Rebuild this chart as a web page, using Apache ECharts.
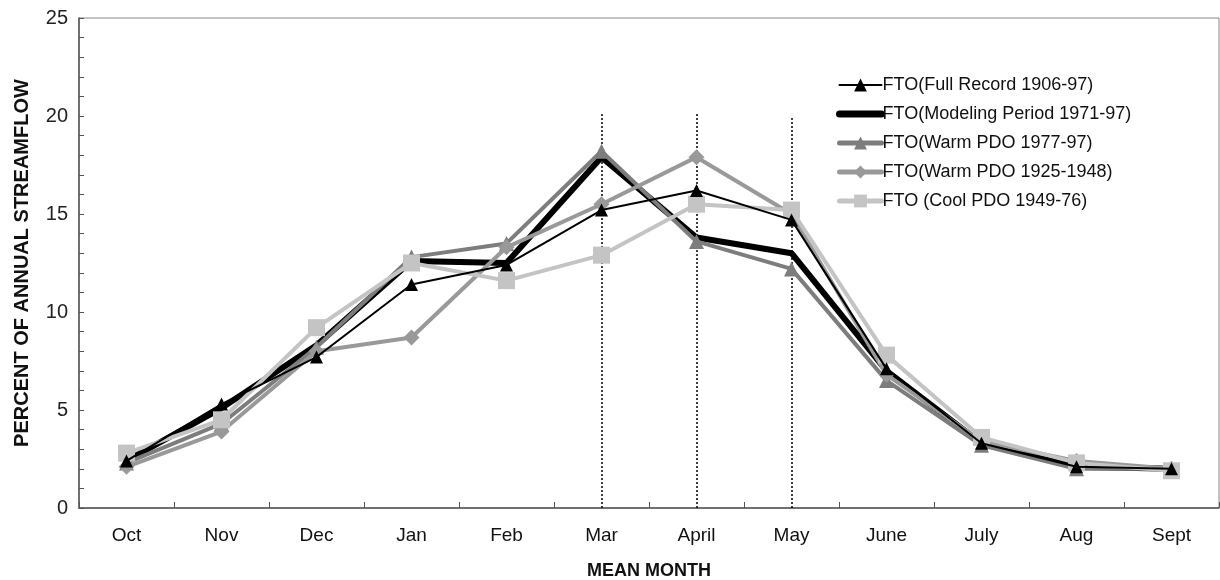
<!DOCTYPE html>
<html>
<head>
<meta charset="utf-8">
<script src="https://cdn.jsdelivr.net/npm/echarts@6/dist/echarts.min.js"></script>
<style>
html,body{margin:0;padding:0;background:#fff;}
#chart{width:1220px;height:580px;}
</style>
</head>
<body>
<div id="chart"></div>
<script>
const months = ['Oct','Nov','Dec','Jan','Feb','Mar','April','May','June','July','Aug','Sept'];
const fullRecord = [2.4, 5.3, 7.7, 11.4, 12.4, 15.2, 16.2, 14.7, 7.1, 3.3, 2.1, 2.0];
const modelingPeriod = [2.4, 5.1, 8.3, 12.6, 12.5, 17.9, 13.8, 13.0, 7.0, 3.3, 2.1, 2.0];
const warmPdo7797 = [2.3, 4.3, 8.2, 12.8, 13.5, 18.2, 13.6, 12.2, 6.5, 3.2, 2.0, 2.0];
const warmPdo2548 = [2.1, 3.9, 8.0, 8.7, 13.3, 15.5, 17.9, 15.0, 6.8, 3.4, 2.4, 2.0];
const coolPdo = [2.8, 4.5, 9.2, 12.5, 11.6, 12.9, 15.5, 15.2, 7.8, 3.6, 2.3, 1.9];
const seriesNames = ['FTO(Full Record 1906-97)','FTO(Modeling Period 1971-97)','FTO(Warm PDO 1977-97)','FTO(Warm PDO 1925-1948)','FTO (Cool PDO 1949-76)'];
const refMonths = ['Mar','April','May'];
const refTops = [20.1, 20.1, 19.9];

const chart = echarts.init(document.getElementById('chart'));
const font = 'Liberation Sans, Arial, sans-serif';

const colors = ['#000000', '#000000', '#7d7d7d', '#999999', '#c4c4c4'];
const widths = [2, 6, 4, 4, 4];
const symbols = ['triangle', null, 'triangle', 'diamond', 'rect'];
const sizes = [13, 0, 15, 16, 17];
const zs = [10, 6, 7, 8, 9];
const datas = [fullRecord, modelingPeriod, warmPdo7797, warmPdo2548, coolPdo];

const s = seriesNames.map((name, i) => ({
  name, type: 'line', data: datas[i], z: zs[i],
  symbol: symbols[i] || 'none', symbolSize: sizes[i], showSymbol: !!symbols[i],
  lineStyle: {color: colors[i], width: widths[i]},
  itemStyle: {color: colors[i]},
  emphasis: {disabled: true},
  animation: false
}));
s[0].markLine = {
  silent: true, symbol: 'none', label: {show: false},
  lineStyle: {color: '#000', type: [2, 2], width: 1.5},
  data: refMonths.map((m, i) => [{coord: [m, 0]}, {coord: [m, refTops[i]]}])
};

const legendData = seriesNames.map((name, i) => {
  const item = {name, lineStyle: {width: i === 1 ? 7 : (i === 0 ? 2 : 5), cap: 'round'}};
  if (!symbols[i]) item.itemStyle = {opacity: 0};
  return item;
});

chart.setOption({
  backgroundColor: '#fff',
  animation: false,
  grid: {left: 79, right: 1, top: 18, bottom: 72, outerBoundsMode: 'none', containLabel: false,
         show: true, borderColor: '#888', borderWidth: 1},
  legend: {
    orient: 'vertical', left: 831, top: 71,
    itemWidth: 42, itemHeight: 16, itemGap: 11,
    textStyle: {fontFamily: font, fontSize: 18, color: '#111', padding: [0,0,0,-4]},
    data: legendData
  },
  xAxis: {
    type: 'category', data: months, boundaryGap: true,
    name: 'MEAN MONTH', nameLocation: 'middle', nameGap: 54,
    nameTextStyle: {fontFamily: font, fontSize: 18, fontWeight: 'bold', color: '#111'},
    axisLine: {lineStyle: {color: '#555', width: 1.5}},
    axisTick: {show: true, inside: true, length: 6, lineStyle: {color: '#555'}},
    axisLabel: {fontFamily: font, fontSize: 19, color: '#111', margin: 18},
    splitLine: {show: false}
  },
  yAxis: {
    type: 'value', min: 0, max: 25, interval: 5,
    name: 'PERCENT OF ANNUAL STREAMFLOW', nameLocation: 'middle', nameGap: 47, nameRotate: 90,
    nameTextStyle: {fontFamily: font, fontSize: 20, fontWeight: 'bold', color: '#111'},
    axisLine: {show: true, lineStyle: {color: '#555', width: 1.5}},
    axisTick: {show: true, inside: true, length: 5, lineStyle: {color: '#555'}},
    minorTick: {show: true, splitNumber: 5, length: 5, lineStyle: {color: '#555'}},
    axisLabel: {fontFamily: font, fontSize: 20, color: '#222', margin: 11},
    splitLine: {show: false}
  },
  series: s
});
</script>
</body>
</html>
